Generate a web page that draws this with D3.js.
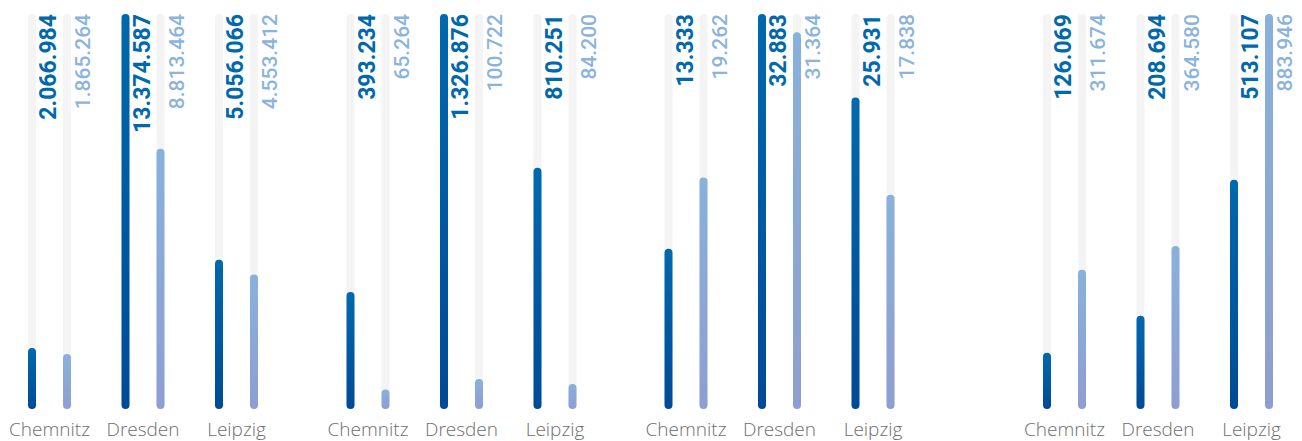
<!DOCTYPE html>
<html>
<head>
<meta charset="utf-8">
<script src="https://cdn.jsdelivr.net/npm/d3@7/dist/d3.min.js"></script>
<style>
html,body{margin:0;padding:0;background:#fff;}
svg{display:block;}
</style>
</head>
<body>
<svg id="chart" width="1302" height="441"></svg>
<script>
const categories = ["Chemnitz", "Dresden", "Leipzig"];
const series = ["dark", "light"];
const panel1Dark  = [2066984, 13374587, 5056066];
const panel1Light = [1865264, 8813464, 4553412];
const panel2Dark  = [393234, 1326876, 810251];
const panel2Light = [65264, 100722, 84200];
const panel3Dark  = [13333, 32883, 25931];
const panel3Light = [19262, 31364, 17838];
const panel4Dark  = [126069, 208694, 513107];
const panel4Light = [311674, 364580, 883946];

const panels = [
  {dark: panel1Dark, light: panel1Light},
  {dark: panel2Dark, light: panel2Light},
  {dark: panel3Dark, light: panel3Light},
  {dark: panel4Dark, light: panel4Light}
];

// layout
const panelOrigins = [32, 350.5, 668.5, 1047];
const cityStep = 93.5;
const pairGap = 35;
const barW = 8;
const plotTop = 14, plotBottom = 409;

const svg = d3.select("#chart");
const defs = svg.append("defs");
const gd = defs.append("linearGradient").attr("id","gDark").attr("x1",0).attr("y1",0).attr("x2",0).attr("y2",1);
gd.append("stop").attr("offset","0%").attr("stop-color","#0069ae");
gd.append("stop").attr("offset","100%").attr("stop-color","#004a97");
const gl = defs.append("linearGradient").attr("id","gLight").attr("x1",0).attr("y1",0).attr("x2",0).attr("y2",1);
gl.append("stop").attr("offset","0%").attr("stop-color","#88b1db");
gl.append("stop").attr("offset","100%").attr("stop-color","#8e9ed2");

const de = d3.formatLocale({decimal: ",", thousands: ".", grouping: [3], currency: ["", " €"]});
const fmt = de.format(",d");

const seriesOffset = d3.scaleOrdinal().domain(series).range([0, pairGap]);
const fills = {dark: "url(#gDark)", light: "url(#gLight)"};
const textColors = {dark: "#0068ad", light: "#8ab3dd"};
const labelShift = {dark: 24, light: 23};
const labelSize = {dark: 23, light: 21};
const labelWeight = {dark: 700, light: 500};

panels.forEach((p, pi) => {
  const x = d3.scalePoint().domain(categories)
    .range([panelOrigins[pi], panelOrigins[pi] + cityStep * 2]);
  const maxV = d3.max([...p.dark, ...p.light]);
  const y = d3.scaleLinear().domain([0, maxV]).range([plotBottom, plotTop]);
  const g = svg.append("g");

  categories.forEach((c, ci) => {
    series.forEach(s => {
      const cx = x(c) + seriesOffset(s);
      const v = p[s][ci];
      g.append("rect")
        .attr("x", cx - barW/2).attr("y", y(maxV))
        .attr("width", barW).attr("height", y(0) - y(maxV))
        .attr("rx", barW/2).attr("fill", "#f4f4f4");
      const h = Math.max(y(0) - y(v), barW);
      g.append("rect")
        .attr("x", cx - barW/2).attr("y", y(0) - h)
        .attr("width", barW).attr("height", h)
        .attr("rx", barW/2).attr("fill", fills[s]);
      g.append("text")
        .attr("transform", `translate(${cx + labelShift[s]},${y(maxV)}) rotate(-90)`)
        .attr("text-anchor", "end")
        .attr("font-family", "Roboto, 'DejaVu Sans', sans-serif")
        .attr("font-weight", labelWeight[s])
        .attr("font-size", labelSize[s])
        .attr("fill", textColors[s])
        .text(fmt(v));
    });
    g.append("text")
      .attr("x", x(c) + pairGap/2).attr("y", 436)
      .attr("text-anchor", "middle")
      .attr("font-family", "'Open Sans', sans-serif")
      .attr("font-weight", 300)
      .attr("font-size", 19)
      .attr("fill", "#6e6e6e")
      .text(c);
  });
});
</script>
</body>
</html>
